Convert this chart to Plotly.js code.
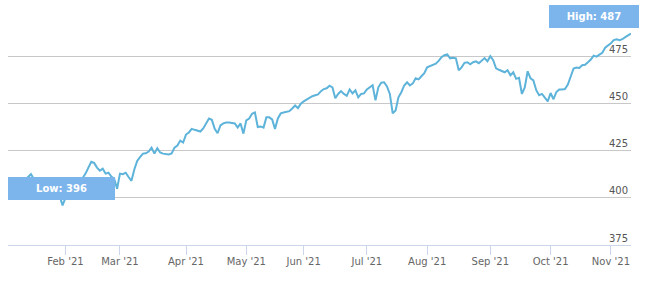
<!DOCTYPE html>
<html>
<head>
<meta charset="utf-8">
<script src="https://cdn.plot.ly/plotly-3.0.1.min.js"></script>
<style>html,body{margin:0;padding:0;background:#fff;}#chart{width:645px;height:285px;}</style>
</head>
<body>
<div id="chart"></div>
<script>
// Trading calendar (first and last session, market holidays)
const firstDay = '2020-12-31';
const lastDay = '2021-11-10';
const holidays = ['2021-01-01','2021-01-18','2021-02-15','2021-04-02','2021-05-31','2021-07-05','2021-09-06'];

// Daily closing values, one per trading session
const closes = [
  404,
  403, 405, 407, 409, 408, 409.5, 410.5, 412.5, 410, 408.5, 407.5, 406.5, 408, 407, 409, 409.5, 406, 401, 396,
  400, 403, 405, 406, 408, 409, 410.5, 412.8, 416, 419.1, 418.5, 416, 414.4, 415.4, 412.8, 413.3, 411.2, 410, 404.8,
  412.8, 412.5, 413.3, 411, 409, 415, 419.5, 421.5, 423.4, 423.6, 424.5, 426.6, 423.4, 426.3, 424, 423.4, 423.2, 423, 423.5, 426.6, 427.7, 430.3, 429.3,
  433.5, 434.6, 436.5, 436, 435.4, 435.1, 436.7, 439, 442, 441.3, 436.5, 434.2, 438.3, 439.4, 439.9, 439.9, 439.6, 439.4, 437.2, 439.4, 434,
  441, 442, 444.5, 445.2, 437.5, 437.8, 437.2, 442.6, 442.6, 441.5, 436.5, 442, 444.7, 445.2, 445.4, 445.9, 447.3, 448.9, 447.5, 449.8,
  451.1, 452, 453, 453.8, 454.3, 454.8, 456.5, 457.6, 458, 459.4, 458.5, 452.7, 455, 456.5, 455, 454, 457.4, 455.3, 456.9, 453.2, 455, 455.3,
  457.4, 458.5, 459.6, 451.6, 458.5, 461, 461.2, 459, 455, 444.7, 446.3, 453.2, 455.9, 459.5, 461.2, 459.5, 460.6, 463.3, 462.7, 464.4, 466,
  469.1, 469.7, 470.2, 471, 472.5, 474.5, 475.5, 476, 473.9, 474.2, 473.9, 467.6, 469.1, 471.5, 471.8, 470.7, 471.8, 472.3, 471.3, 472.9, 474, 472.3,
  475, 472.9, 468.6, 467.8, 467, 466.5, 467.6, 464.9, 466.5, 463, 463.5, 455, 458.5, 467, 463.3, 462.2, 457, 454.3, 455, 453.2, 451.1,
  455.5, 452.2, 456, 457.4, 457.4, 457.6, 460, 464.5, 468.5, 469, 468.8, 470.2, 470.5, 471.8, 473.2, 475.3, 474.8, 475.8, 476.8, 479.5, 480.5,
  481.9, 483.5, 484, 483.5, 484, 485.1, 486, 487
];

// Axis tick labels
const monthTicks = ['2021-02','2021-03','2021-04','2021-05','2021-06','2021-07','2021-08','2021-09','2021-10','2021-11'];
const monthLabels = ["Feb '21","Mar '21","Apr '21","May '21","Jun '21","Jul '21","Aug '21","Sep '21","Oct '21","Nov '21"];
const yTicks = [375, 400, 425, 450, 475, 500];
const yLabels = ['375', '400', '425', '450', '475', ''];

// Build the list of trading sessions
function tradingDays(a, b, hol) {
  const out = [];
  const d = new Date(a + 'T00:00:00Z');
  const end = new Date(b + 'T00:00:00Z');
  while (d <= end) {
    const s = d.toISOString().slice(0, 10);
    const wd = d.getUTCDay();
    if (wd !== 0 && wd !== 6 && hol.indexOf(s) < 0) out.push(s);
    d.setUTCDate(d.getUTCDate() + 1);
  }
  return out;
}
const dates = tradingDays(firstDay, lastDay, holidays);

const tickvals = monthTicks.map(m => dates.find(d => d.slice(0, 7) === m));

let iMin = 0, iMax = 0;
closes.forEach((v, i) => { if (v < closes[iMin]) iMin = i; if (v > closes[iMax]) iMax = i; });

const FONT = 'DejaVu Sans, Verdana, sans-serif';
const BOX = '#7cb5ec';

const trace = {
  x: dates, y: closes, type: 'scatter', mode: 'lines',
  line: { color: '#5db3d9', width: 2 }, hoverinfo: 'x+y', showlegend: false
};

const layout = {
  width: 645, height: 285,
  margin: { l: 8, r: 14, t: 9, b: 40 },
  paper_bgcolor: '#ffffff', plot_bgcolor: '#ffffff',
  showlegend: false,
  font: { family: FONT, size: 10, color: '#666666' },
  xaxis: {
    type: 'category', range: [0, dates.length - 1],
    tickmode: 'array', tickvals: tickvals, ticktext: monthLabels,
    showgrid: false, zeroline: false,
    showline: true, linecolor: '#ccd6eb', linewidth: 1,
    ticks: 'outside', ticklen: 9, tickcolor: '#ccd6eb', tickwidth: 1,
    ticklabelstandoff: -2,
    ticklabeloverflow: 'allow',
    tickfont: { family: FONT, size: 10, color: '#666666' },
    fixedrange: true
  },
  yaxis: {
    range: [375, 500], side: 'right',
    tickmode: 'array', tickvals: yTicks, ticktext: yLabels,
    ticklabelposition: 'inside', ticklabelshift: -7, ticklabelstandoff: 0,
    ticklabeloverflow: 'allow',
    showgrid: true, gridcolor: '#c8c8c8', gridwidth: 1,
    zeroline: false, showline: false, ticks: '',
    tickfont: { family: FONT, size: 10, color: '#555555' },
    fixedrange: true
  },
  annotations: [
    {
      x: dates[iMin], y: closes[iMin], xref: 'x', yref: 'y',
      text: '<b>Low: ' + Math.round(closes[iMin]) + '</b>', showarrow: false,
      xanchor: 'center', yanchor: 'bottom', xshift: -1, yshift: 5.5,
      width: 103, height: 19, bgcolor: BOX, bordercolor: BOX, borderwidth: 1, borderpad: 1,
      font: { family: FONT, size: 10, color: '#ffffff' }
    },
    {
      x: dates[iMax], y: closes[iMax], xref: 'x', yref: 'y',
      text: '<b>High: ' + Math.round(closes[iMax]) + '</b>', showarrow: false,
      xanchor: 'center', yanchor: 'bottom', xshift: -37, yshift: 5.4,
      width: 86, height: 19, bgcolor: BOX, bordercolor: BOX, borderwidth: 1, borderpad: 1,
      font: { family: FONT, size: 10, color: '#ffffff' }
    }
  ]
};

Plotly.newPlot('chart', [trace], layout, { displayModeBar: false, staticPlot: true });
</script>
</body>
</html>
